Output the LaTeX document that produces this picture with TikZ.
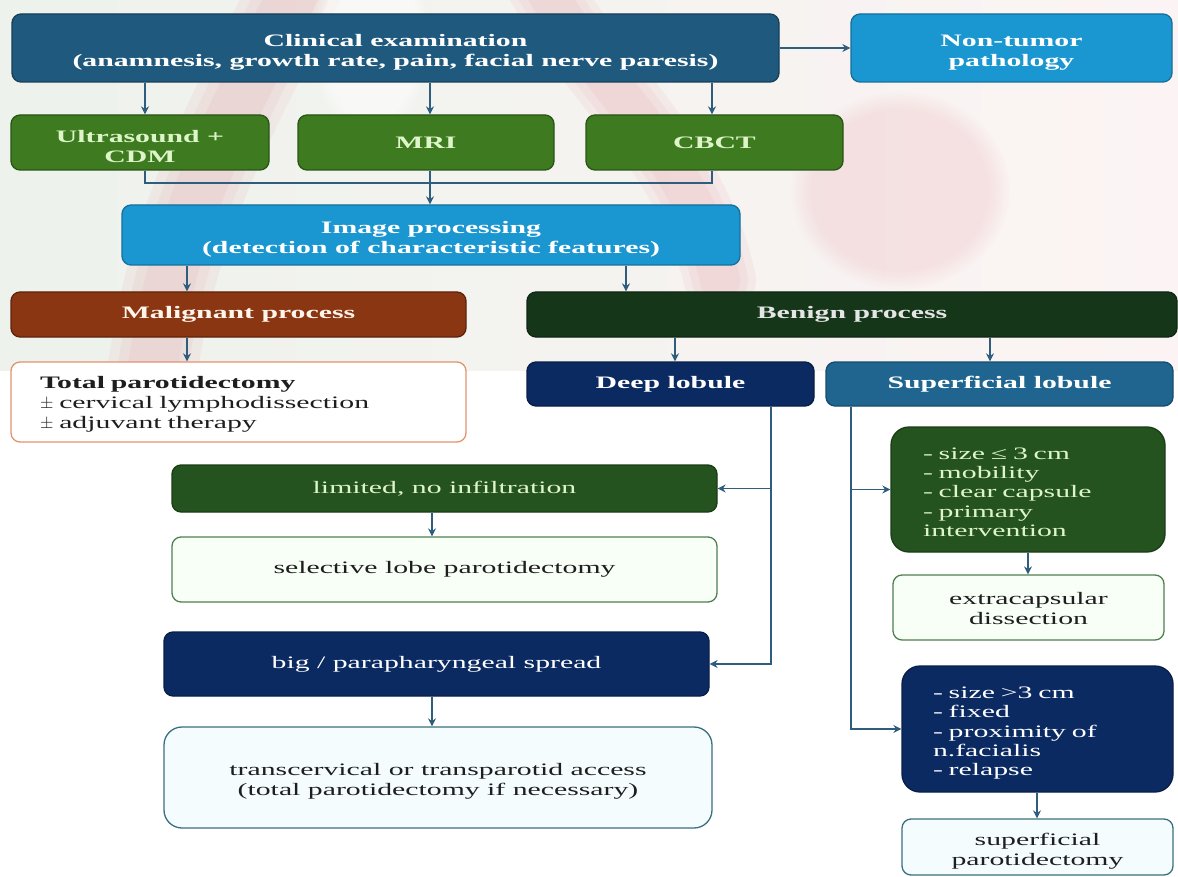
\documentclass[tikz,border=0pt]{standalone}
\usepackage{fontspec}
\setmainfont[FakeStretch=1.7]{Liberation Serif}
\usetikzlibrary{arrows.meta,fadings}
\definecolor{cClin}{HTML}{1F5A7E}
\definecolor{cClinD}{HTML}{163F5A}
\definecolor{cLight}{HTML}{1A96D0}
\definecolor{cLightD}{HTML}{14709C}
\definecolor{cGreen}{HTML}{3D7A20}
\definecolor{cGreenD}{HTML}{2A5516}
\definecolor{cGreenT}{HTML}{DDF5C8}
\definecolor{cMal}{HTML}{8A3612}
\definecolor{cMalD}{HTML}{5E240C}
\definecolor{cBen}{HTML}{153619}
\definecolor{cBenD}{HTML}{0F2713}
\definecolor{cNavy}{HTML}{0B2A62}
\definecolor{cNavyD}{HTML}{081E47}
\definecolor{cSup}{HTML}{1F6590}
\definecolor{cSupD}{HTML}{174C6D}
\definecolor{cDG}{HTML}{25531F}
\definecolor{cDGD}{HTML}{1A3C16}
\definecolor{cArr}{HTML}{2E5D7E}
\definecolor{cOrB}{HTML}{E3926E}
\definecolor{cGrB}{HTML}{4F7F4F}
\definecolor{cTlB}{HTML}{3A6F80}
\definecolor{cTxt}{HTML}{1E1E1E}
\definecolor{bgL}{HTML}{EDF2EC}
\definecolor{bgM}{HTML}{F3D0D3}
\definecolor{bgR}{HTML}{FCF4F4}
\definecolor{wm}{HTML}{D8404E}
\newcommand\firstln{\rule{0pt}{20pt}}
\begin{document}
\begin{tikzpicture}[x=1pt,y=-1pt,
  fnt/.style={font=\fontsize{17.5}{20}\selectfont},
  box/.style={draw, rounded corners=9pt, line width=1.3pt, align=center, inner sep=0pt, fnt},
  bbox/.style={box, font=\fontsize{17.5}{20}\selectfont\bfseries},
  ln/.style={draw=cArr, line width=1.5pt},
  arr/.style={ln, -{Stealth[length=8pt,width=8pt]}},
  wmark/.style={draw=wm, opacity=0.05, line cap=round}]
\useasboundingbox (0,0) rectangle (1178,877);
% background with faint watermark
\shade[left color=bgL, middle color=bgM, right color=bgR] (0,0) rectangle (1178,370);
\begin{scope}
\clip (0,0) rectangle (1178,370);
\foreach \w in {90,70,50} {
  \draw[wmark, line width=\w pt] (150,390) .. controls (170,220) and (230,120) .. (300,-20);
  \draw[wmark, line width=0.8*\w pt] (540,-20) .. controls (600,90) and (690,150) .. (720,280);
}
\fill[wm, opacity=0.10, path fading=circle with fuzzy edge 20 percent] (900,190) ellipse (110pt and 100pt);
\fill[white, opacity=0.5, path fading=circle with fuzzy edge 20 percent] (370,40) ellipse (60pt and 100pt);
\end{scope}

% nodes
\node[bbox, fill=cClin, draw=cClinD, text=white, minimum width=767pt, minimum height=68pt] (clin) at (395.5,48)
  {\firstln Clinical examination\\(anamnesis, growth rate, pain, facial nerve paresis)};
\node[bbox, fill=cLight, draw=cLightD, text=white, minimum width=321pt, minimum height=68pt] (nontumor) at (1011.5,48)
  {\firstln Non-tumor\\pathology};
\node[bbox, fill=cGreen, draw=cGreenD, text=cGreenT, minimum width=258pt, minimum height=55pt] (us) at (140,142.5)
  {\firstln Ultrasound +\\CDM};
\node[bbox, fill=cGreen, draw=cGreenD, text=cGreenT, minimum width=256pt, minimum height=55pt] (mri) at (426,142.5) {MRI};
\node[bbox, fill=cGreen, draw=cGreenD, text=cGreenT, minimum width=257pt, minimum height=55pt] (cbct) at (714.5,142.5) {CBCT};
\node[bbox, fill=cLight, draw=cLightD, text=white, minimum width=618pt, minimum height=60pt] (imgp) at (431,235)
  {\firstln Image processing\\(detection of characteristic features)};
\node[bbox, fill=cMal, draw=cMalD, text=white!92!orange, minimum width=455pt, minimum height=45pt] (malig) at (238.5,314.5)
  {Malignant process};
\node[bbox, fill=cBen, draw=cBenD, text=white!90!black, minimum width=650pt, minimum height=45pt] (benign) at (852,314.5)
  {Benign process};
\node[box, fill=white, draw=cOrB, text=cTxt, minimum width=455pt, minimum height=80pt, text width=397pt, align=left] (total) at (238.5,402)
  {\rule{0pt}{17pt}\textbf{Total parotidectomy}\\$\pm$ cervical lymphodissection\\$\pm$ adjuvant therapy};
\node[bbox, fill=cNavy, draw=cNavyD, text=white, minimum width=287pt, minimum height=44pt] (deep) at (670.5,384) {Deep lobule};
\node[bbox, fill=cSup, draw=cSupD, text=white, minimum width=347pt, minimum height=44pt] (superf) at (999.5,384) {Superficial lobule};
\node[box, fill=cDG, draw=cDGD, text=cGreenT, minimum width=545pt, minimum height=47pt] (limited) at (444.5,488.5)
  {limited, no infiltration};
\node[box, fill=white!97!green, draw=cGrB, text=cTxt, minimum width=545pt, minimum height=65pt] (selective) at (444.5,569.5)
  {selective lobe parotidectomy};
\node[box, rounded corners=18pt, fill=cDG, draw=cDGD, text=cGreenT, minimum width=274pt, minimum height=125pt, text width=210pt, align=left,
  font=\fontsize{17.5}{19.3}\selectfont] (crit1) at (1028,489.5)
  {\rule{0pt}{17pt}- size ≤ 3 cm\\- mobility\\- clear capsule\\- primary\\intervention};
\node[box, fill=white!97!green, draw=cGrB, text=cTxt, minimum width=271pt, minimum height=65pt] (extracap) at (1028.5,607.5)
  {\rule{0pt}{15pt}extracapsular\\dissection};
\node[box, fill=cNavy, draw=cNavyD, text=white, minimum width=545pt, minimum height=64pt] (big) at (436.5,664)
  {big / parapharyngeal spread};
\node[box, rounded corners=18pt, fill=white!96!cyan, draw=cTlB, text=cTxt, minimum width=548pt, minimum height=101pt] (trans) at (438,777.5)
  {\firstln transcervical or transparotid access\\(total parotidectomy if necessary)};
\node[box, rounded corners=18pt, fill=cNavy, draw=cNavyD, text=white, minimum width=271pt, minimum height=126pt, text width=209pt, align=left,
  font=\fontsize{17.5}{19.3}\selectfont] (crit2) at (1037.5,729)
  {\firstln - size >3 cm\\- fixed\\- proximity of\\n.facialis\\- relapse};
\node[box, fill=white!96!cyan, draw=cTlB, text=cTxt, minimum width=271pt, minimum height=56pt] (supparot) at (1037.5,847)
  {\rule{0pt}{21pt}superficial\\parotidectomy};

% helper coordinates
\coordinate (xus) at (145,0);
\coordinate (xmri) at (430,0);
\coordinate (xcb) at (712,0);
\coordinate (ybus) at (0,183);
\coordinate (xmal) at (187,0);
\coordinate (xben) at (626,0);
\coordinate (xdeep) at (675,0);
\coordinate (xsup) at (990,0);
\coordinate (xdl) at (771,0);
\coordinate (xsl) at (851,0);
\coordinate (xlim) at (432,0);
\coordinate (xc1) at (1028,0);
\coordinate (xc2) at (1037,0);

% connectors
\draw[arr] (clin.east) -- (nontumor.west);
\draw[arr] (clin.south -| xus) -- (us.north -| xus);
\draw[arr] (clin.south -| xmri) -- (mri.north -| xmri);
\draw[arr] (clin.south -| xcb) -- (cbct.north -| xcb);
\draw[ln] (us.south -| xus) |- (ybus -| xcb) -- (cbct.south -| xcb);
\draw[arr] (mri.south -| xmri) -- (imgp.north -| xmri);
\draw[arr] (imgp.south -| xmal) -- (malig.north -| xmal);
\draw[arr] (imgp.south -| xben) -- (benign.north -| xben);
\draw[arr] (malig.south -| xmal) -- (total.north -| xmal);
\draw[arr] (benign.south -| xdeep) -- (deep.north -| xdeep);
\draw[arr] (benign.south -| xsup) -- (superf.north -| xsup);
\draw[arr] (deep.south -| xdl) |- (limited.east);
\draw[arr] (deep.south -| xdl) |- (big.east);
\draw[arr] (limited.south -| xlim) -- (selective.north -| xlim);
\draw[arr] (big.south -| xlim) -- (trans.north -| xlim);
\draw[arr] (superf.south -| xsl) |- (crit1.west);
\draw[arr] (superf.south -| xsl) |- (crit2.west);
\draw[arr] (crit1.south -| xc1) -- (extracap.north -| xc1);
\draw[arr] (crit2.south -| xc2) -- (supparot.north -| xc2);
\end{tikzpicture}
\end{document}
